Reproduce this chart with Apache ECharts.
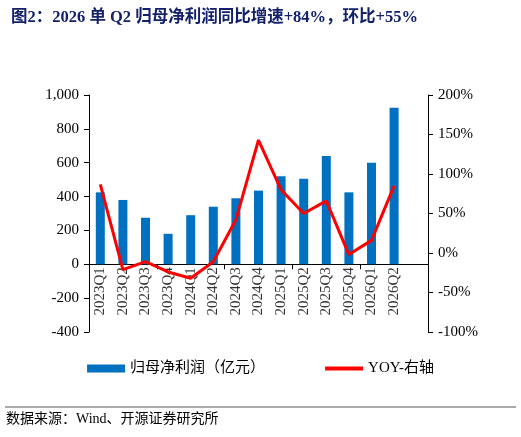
<!DOCTYPE html>
<html><head><meta charset="utf-8">
<script src="https://cdn.jsdelivr.net/npm/echarts@6/dist/echarts.min.js"></script>
<style>html,body{margin:0;padding:0;background:#fff}#c{width:521px;height:437px}</style>
</head><body><div id="c"></div>
<script>
const categories=['2023Q1','2023Q2','2023Q3','2023Q4','2024Q1','2024Q2','2024Q3','2024Q4','2025Q1','2025Q2','2025Q3','2025Q4','2026Q1','2026Q2',''];
const profit=[425,380,275,180,290,340,390,435,520,505,640,425,600,925,null];
const yoy=[87,-21,-11,-24,-32,-11,42,143,80,50,66,-2,16,85,null];
const serif='"Liberation Serif","Noto Sans CJK SC",serif';
const chart=echarts.init(document.getElementById('c'));
chart.setOption({
  animation:false,
  title:{text:'图2：2026 单 Q2 归母净利润同比增速+84%，环比+55%',left:6,top:4,
    textStyle:{color:'#13206b',fontSize:16.5,fontWeight:'bold',fontFamily:serif}},
  grid:{left:89,right:93,top:95,bottom:105},
  legend:{bottom:56,left:'center',itemGap:60,itemWidth:38,itemHeight:8,
    textStyle:{fontFamily:serif,fontSize:15,color:'#000'},
    data:[{name:'归母净利润（亿元）',icon:'rect'},{name:'YOY-右轴',icon:'path://M0,0H10V1H0Z'}]},
  graphic:[
    {type:'line',shape:{x1:5,y1:407,x2:516,y2:407},style:{stroke:'#555',lineWidth:1}},
    {type:'text',left:6,top:412,style:{text:'数据来源：Wind、开源证券研究所',fontFamily:serif,fontSize:14,fill:'#000'}}
  ],
  xAxis:{type:'category',data:categories,boundaryGap:true,
    axisLine:{onZero:true,lineStyle:{color:'#000'}},axisTick:{show:true,length:5,lineStyle:{color:'#000'}},
    axisLabel:{show:false}},
  yAxis:[
    {type:'value',min:-400,max:1000,interval:200,splitLine:{show:false},
     axisLine:{show:true,lineStyle:{color:'#000'}},axisTick:{show:true,length:5,lineStyle:{color:'#000'}},
     axisLabel:{color:'#000',fontFamily:serif,fontSize:15,margin:10,formatter:v=>v.toLocaleString('en-US')}},
    {type:'value',min:-100,max:200,interval:50,splitLine:{show:false},
     axisLine:{show:true,lineStyle:{color:'#000'}},axisTick:{show:true,length:5,lineStyle:{color:'#000'}},
     axisLabel:{color:'#000',fontFamily:serif,fontSize:15,margin:10,formatter:'{value}%'}}
  ],
  series:[
    {name:'归母净利润（亿元）',type:'bar',data:profit,barWidth:9,itemStyle:{color:'#0070c0'}},
    {name:'YOY-右轴',type:'line',yAxisIndex:1,data:yoy,symbol:'none',lineStyle:{color:'#ff0000',width:3},itemStyle:{color:'#ff0000'}},
    {name:'labels',type:'scatter',data:categories.map(()=>0),symbolSize:0,silent:true,
     label:{show:true,position:'bottom',distance:3,rotate:90,align:'right',verticalAlign:'middle',
       color:'#000',fontFamily:serif,fontSize:15,formatter:p=>categories[p.dataIndex]}}
  ]
});
</script></body></html>
